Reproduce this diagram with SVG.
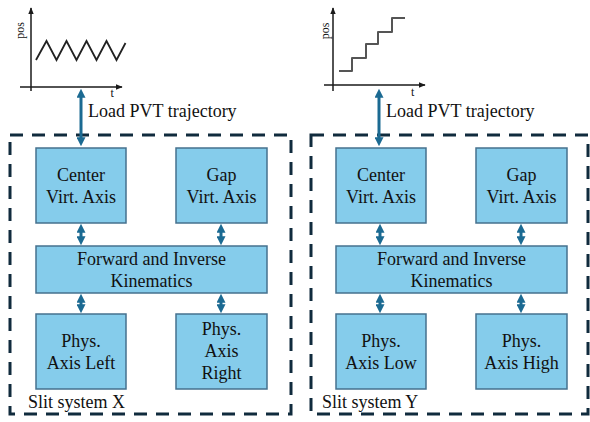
<svg xmlns="http://www.w3.org/2000/svg" width="590" height="422" viewBox="0 0 590 422">
<style>
text{font-family:"Liberation Serif","Times New Roman",serif;fill:#111;}
.t18{font-size:18px;}
.t12{font-size:12px;}
.box{fill:#85CCEB;stroke:#46718E;stroke-width:1.5;}
.sys{fill:none;stroke:#102B3D;stroke-width:3;stroke-dasharray:13 9;}
.conn{stroke:#1B6A92;stroke-width:3;fill:none;marker-start:url(#ah);marker-end:url(#ah);}
.axis{stroke:#1a1a1a;stroke-width:1.5;fill:none;marker-end:url(#ax);}
</style>
<defs>
<marker id="ah" viewBox="0 0 10 10" refX="2" refY="5" markerUnits="userSpaceOnUse" markerWidth="9" markerHeight="9" orient="auto-start-reverse">
<path d="M0,0 L10,5 L0,10 z" fill="#1B6A92"/>
</marker>
<marker id="ax" viewBox="0 0 10 10" refX="9" refY="5" markerUnits="userSpaceOnUse" markerWidth="7" markerHeight="7" orient="auto">
<path d="M0,1 L10,5 L0,9 z" fill="#1a1a1a"/>
</marker>
</defs>

<g id="chart-left">
<line class="axis" x1="31" y1="91" x2="31" y2="8"/>
<line class="axis" x1="20" y1="87" x2="122" y2="87"/>
<polyline points="36,60 46.5,41 56.5,60 66.5,41 76.5,60 86.5,41 96.5,60 106.5,41 116.5,60 125.5,43" fill="none" stroke="#222" stroke-width="1.8"/>
<text class="t12" text-anchor="middle" transform="translate(24,30.5) rotate(-90)">pos</text>
<text class="t12" x="110.5" y="97">t</text>
</g>

<g id="chart-right">
<line class="axis" x1="333" y1="91" x2="333" y2="8"/>
<line class="axis" x1="324" y1="85" x2="425" y2="85"/>
<path d="M339,71 H352 V58 H366 V44 H378 V32 H392 V18 H405" fill="none" stroke="#555" stroke-width="2" stroke-linejoin="round"/>
<text class="t12" text-anchor="middle" transform="translate(329,31) rotate(-90)">pos</text>
<text class="t12" x="411" y="96">t</text>
</g>

<g id="system-x">
<rect class="sys" x="10" y="135" width="281" height="279"/>
<text class="t18" x="28" y="408">Slit system X</text>
</g>
<g id="system-y">
<rect class="sys" x="311" y="135" width="277" height="279"/>
<text class="t18" x="322" y="408">Slit system Y</text>
</g>

<g id="x-center">
<rect class="box" x="36" y="148" width="90" height="75"/>
<text class="t18" text-anchor="middle" x="81" y="181">Center</text>
<text class="t18" text-anchor="middle" x="81" y="203">Virt. Axis</text>
</g>
<g id="x-gap">
<rect class="box" x="176" y="148" width="91" height="75"/>
<text class="t18" text-anchor="middle" x="221.5" y="181">Gap</text>
<text class="t18" text-anchor="middle" x="221.5" y="203">Virt. Axis</text>
</g>
<g id="x-kin">
<rect class="box" x="36" y="246" width="231" height="47"/>
<text class="t18" text-anchor="middle" x="151.5" y="265">Forward and Inverse</text>
<text class="t18" text-anchor="middle" x="151.5" y="287">Kinematics</text>
</g>
<g id="x-left">
<rect class="box" x="36" y="314" width="90" height="75"/>
<text class="t18" text-anchor="middle" x="81" y="347">Phys.</text>
<text class="t18" text-anchor="middle" x="81" y="369">Axis Left</text>
</g>
<g id="x-right">
<rect class="box" x="176" y="314" width="91" height="75"/>
<text class="t18" text-anchor="middle" x="221.5" y="335">Phys.</text>
<text class="t18" text-anchor="middle" x="221.5" y="357">Axis</text>
<text class="t18" text-anchor="middle" x="221.5" y="379">Right</text>
</g>

<g id="y-center">
<rect class="box" x="336" y="148" width="90" height="75"/>
<text class="t18" text-anchor="middle" x="381" y="181">Center</text>
<text class="t18" text-anchor="middle" x="381" y="203">Virt. Axis</text>
</g>
<g id="y-gap">
<rect class="box" x="476" y="148" width="91" height="75"/>
<text class="t18" text-anchor="middle" x="521.5" y="181">Gap</text>
<text class="t18" text-anchor="middle" x="521.5" y="203">Virt. Axis</text>
</g>
<g id="y-kin">
<rect class="box" x="336" y="246" width="231" height="47"/>
<text class="t18" text-anchor="middle" x="451.5" y="265">Forward and Inverse</text>
<text class="t18" text-anchor="middle" x="451.5" y="287">Kinematics</text>
</g>
<g id="y-low">
<rect class="box" x="336" y="314" width="90" height="75"/>
<text class="t18" text-anchor="middle" x="381" y="347">Phys.</text>
<text class="t18" text-anchor="middle" x="381" y="369">Axis Low</text>
</g>
<g id="y-high">
<rect class="box" x="476" y="314" width="91" height="75"/>
<text class="t18" text-anchor="middle" x="521.5" y="347">Phys.</text>
<text class="t18" text-anchor="middle" x="521.5" y="369">Axis High</text>
</g>

<g id="connectors">
<line class="conn" x1="81" y1="96" x2="81" y2="139"/>
<line class="conn" x1="379" y1="96" x2="379" y2="139"/>
<line class="conn" x1="81" y1="231" x2="81" y2="238"/>
<line class="conn" x1="221" y1="231" x2="221" y2="238"/>
<line class="conn" x1="81" y1="301" x2="81" y2="306"/>
<line class="conn" x1="221" y1="301" x2="221" y2="306"/>
<line class="conn" x1="380" y1="231" x2="380" y2="238"/>
<line class="conn" x1="521" y1="231" x2="521" y2="238"/>
<line class="conn" x1="380" y1="301" x2="380" y2="306"/>
<line class="conn" x1="521" y1="301" x2="521" y2="306"/>
<text class="t18" x="88" y="117">Load PVT trajectory</text>
<text class="t18" x="386" y="117">Load PVT trajectory</text>
</g>
</svg>
